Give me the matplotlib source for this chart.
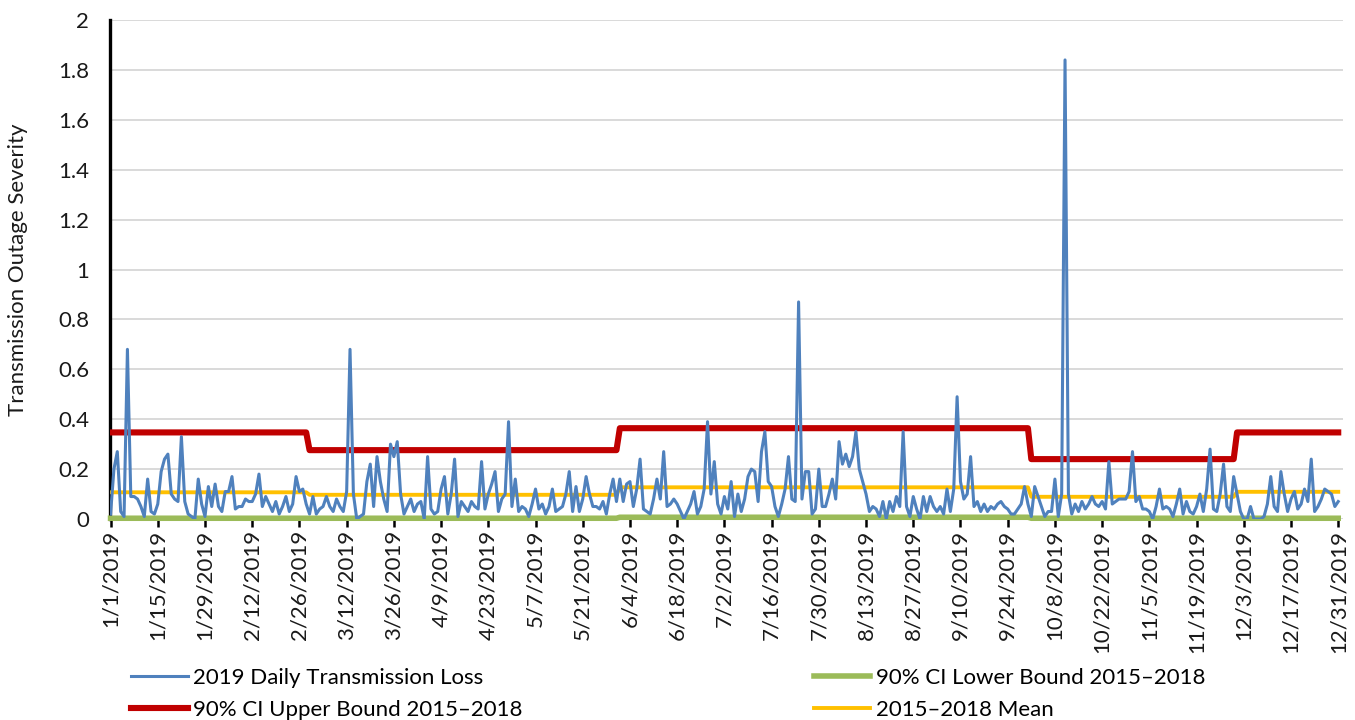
import numpy as np
import pandas as pd
import matplotlib
matplotlib.use("Agg")
import matplotlib.pyplot as plt

plt.rcParams['font.family'] = ['Lato', 'DejaVu Sans']

# 2019 daily transmission loss, month by month
jan = [0.02, 0.2, 0.27, 0.03, 0.01, 0.68, 0.09, 0.09, 0.08, 0.05, 0.01, 0.16, 0.03, 0.02, 0.06, 0.19,
       0.24, 0.26, 0.1, 0.08, 0.07, 0.33, 0.07, 0.02, 0.01, 0.0, 0.16, 0.06, 0.01, 0.13, 0.05]
feb = [0.14, 0.05, 0.03, 0.11, 0.11, 0.17, 0.04, 0.05, 0.05, 0.08, 0.07, 0.07, 0.1, 0.18, 0.05, 0.09,
       0.06, 0.03, 0.07, 0.02, 0.05, 0.09, 0.03, 0.06, 0.17, 0.11, 0.12, 0.06]
mar = [0.02, 0.09, 0.02, 0.04, 0.05, 0.09, 0.05, 0.03, 0.08, 0.05, 0.03, 0.11, 0.68, 0.1, 0.0, 0.01,
       0.02, 0.15, 0.22, 0.05, 0.25, 0.15, 0.08, 0.03, 0.3, 0.25, 0.31, 0.1, 0.02, 0.05, 0.08]
apr = [0.03, 0.06, 0.07, 0.0, 0.25, 0.04, 0.02, 0.03, 0.12, 0.17, 0.02, 0.1, 0.24, 0.01, 0.07, 0.05,
       0.03, 0.07, 0.05, 0.04, 0.23, 0.04, 0.1, 0.14, 0.19, 0.03, 0.08, 0.1, 0.39, 0.05]
may = [0.16, 0.03, 0.05, 0.04, 0.01, 0.06, 0.12, 0.04, 0.06, 0.02, 0.05, 0.12, 0.03, 0.04, 0.05, 0.1,
       0.19, 0.03, 0.13, 0.03, 0.08, 0.17, 0.1, 0.05, 0.05, 0.04, 0.07, 0.02, 0.1, 0.16, 0.07]
jun = [0.16, 0.07, 0.14, 0.15, 0.05, 0.12, 0.24, 0.04, 0.03, 0.02, 0.08, 0.16, 0.08, 0.27, 0.05, 0.06,
       0.08, 0.06, 0.03, 0.0, 0.03, 0.06, 0.11, 0.02, 0.05, 0.12, 0.39, 0.1, 0.23, 0.06]
jul = [0.02, 0.09, 0.04, 0.15, 0.01, 0.1, 0.03, 0.08, 0.17, 0.2, 0.19, 0.07, 0.27, 0.35, 0.15, 0.13,
       0.05, 0.01, 0.06, 0.12, 0.25, 0.08, 0.07, 0.87, 0.08, 0.19, 0.19, 0.02, 0.04, 0.2, 0.05]
aug = [0.05, 0.1, 0.16, 0.08, 0.31, 0.22, 0.26, 0.21, 0.25, 0.35, 0.2, 0.15, 0.1, 0.03, 0.05, 0.04,
       0.01, 0.07, 0.0, 0.07, 0.03, 0.09, 0.05, 0.35, 0.05, 0.01, 0.09, 0.04, 0.0, 0.09, 0.03]
sep = [0.09, 0.05, 0.03, 0.05, 0.02, 0.12, 0.03, 0.12, 0.49, 0.15, 0.08, 0.1, 0.25, 0.05, 0.07, 0.03,
       0.06, 0.03, 0.05, 0.04, 0.06, 0.07, 0.05, 0.04, 0.02, 0.02, 0.04, 0.06, 0.13, 0.06]
oct_ = [0.01, 0.13, 0.09, 0.05, 0.01, 0.03, 0.03, 0.16, 0.01, 0.1, 1.84, 0.1, 0.02, 0.06, 0.03, 0.07,
        0.04, 0.06, 0.09, 0.06, 0.05, 0.07, 0.04, 0.23, 0.06, 0.07, 0.08, 0.08, 0.08, 0.11, 0.27]
nov = [0.07, 0.09, 0.04, 0.04, 0.03, 0.0, 0.05, 0.12, 0.04, 0.05, 0.04, 0.01, 0.06, 0.12, 0.02, 0.07,
       0.03, 0.02, 0.05, 0.1, 0.03, 0.12, 0.28, 0.04, 0.03, 0.1, 0.22, 0.05, 0.03, 0.17]
dec = [0.1, 0.03, 0.0, 0.0, 0.05, 0.0, 0.0, 0.0, 0.01, 0.06, 0.17, 0.05, 0.03, 0.19, 0.1, 0.03,
       0.08, 0.11, 0.04, 0.06, 0.12, 0.07, 0.24, 0.03, 0.05, 0.08, 0.12, 0.11, 0.1, 0.05, 0.07]

# 2015-2018 monthly reference levels
month_days = [31, 28, 31, 30, 31, 30, 31, 31, 30, 31, 30, 31]
upper_m = [0.347, 0.347, 0.276, 0.276, 0.276, 0.364, 0.364, 0.364, 0.364, 0.24, 0.24, 0.347]
mean_m = [0.107, 0.107, 0.097, 0.097, 0.097, 0.127, 0.127, 0.127, 0.127, 0.089, 0.089, 0.109]
lower_m = [0.003, 0.003, 0.003, 0.003, 0.003, 0.007, 0.007, 0.007, 0.007, 0.003, 0.003, 0.003]

loss = np.array(jan + feb + mar + apr + may + jun + jul + aug + sep + oct_ + nov + dec)
upper = np.repeat(upper_m, month_days)
mean = np.repeat(mean_m, month_days)
lower = np.repeat(lower_m, month_days)
dates = pd.date_range('2019-01-01', periods=365, freq='D')

fig = plt.figure(figsize=(13.55, 7.2), dpi=100)
ax = fig.add_axes([110/1355, 1-519/720, (1343-110)/1355, (519-20)/720])

l_loss, = ax.plot(dates, loss, color='#4F81BD', lw=2.2, zorder=5, label='2019 Daily Transmission Loss')
l_low, = ax.plot(dates, lower, color='#9BBB59', lw=4.0, zorder=3, clip_on=False,
                 label='90% CI Lower Bound 2015\u20132018')
l_up, = ax.plot(dates, upper, color='#C00000', lw=4.4, zorder=3, label='90% CI Upper Bound 2015\u20132018')
l_mean, = ax.plot(dates, mean, color='#FFC000', lw=2.8, zorder=4, label='2015\u20132018 Mean')

ax.set_ylim(0, 2)
ax.set_yticks(np.arange(0, 2.01, 0.2))
ax.set_yticklabels([f"{v:g}" for v in np.round(np.arange(0, 2.01, 0.2), 1)])
ax.set_xlim(dates[0] - pd.Timedelta(hours=4), dates[-1] + pd.Timedelta(hours=34))

ticks = dates[::14]
ax.set_xticks(ticks)
ax.set_xticklabels([f"{d.month}/{d.day}/{d.year}" for d in ticks], rotation=90)

ax.grid(axis='y', color='#d9d9d9', lw=1.4)
ax.set_axisbelow(True)
for s in ['top', 'right', 'bottom']:
    ax.spines[s].set_visible(False)
ax.spines['left'].set_linewidth(2.4)
ax.spines['left'].set_color('black')
ax.tick_params(axis='y', length=0, pad=15, labelsize=16, colors='#1a1a1a')
ax.tick_params(axis='x', length=6, width=1.8, pad=2, labelsize=16, colors='black', labelcolor='#1a1a1a')

fig.text(18/1355, 1-270/720, 'Transmission Outage Severity', rotation=90, ha='center', va='center',
         fontsize=16, color='#1a1a1a')

fig.legend(handles=[l_loss, l_up, l_low, l_mean], loc='upper left', bbox_to_anchor=(131/1355, 1-668/720),
           ncol=2, frameon=False, fontsize=16, handlelength=2.55, handletextpad=0.25,
           columnspacing=13.1, labelspacing=0.55, borderpad=0, borderaxespad=0)

fig.savefig('out.png', dpi=100)
